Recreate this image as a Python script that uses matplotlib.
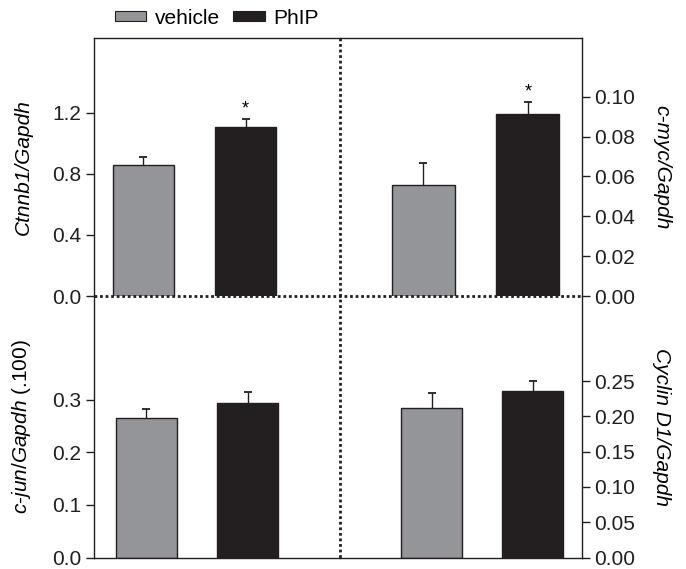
import matplotlib
matplotlib.use("Agg")
import matplotlib.pyplot as plt
from matplotlib.lines import Line2D
from matplotlib.patches import Patch

plt.rcParams['font.family'] = ['Liberation Sans', 'DejaVu Sans']
plt.rcParams['mathtext.fontset'] = 'custom'
plt.rcParams['mathtext.it'] = 'Liberation Sans:italic'
plt.rcParams['mathtext.rm'] = 'Liberation Sans'

# ---- data ----
groups = ['vehicle', 'PhIP']
ctnnb1 = [0.855, 1.105]
ctnnb1_err = [0.058, 0.053]
cmyc = [0.0558, 0.0915]
cmyc_err = [0.0112, 0.0060]
cjun = [0.266, 0.294]
cjun_err = [0.017, 0.021]
cycd1 = [0.2125, 0.236]
cycd1_err = [0.020, 0.014]
signif_top_left = [False, True]
signif_top_right = [False, True]

ticks_ctnnb1 = [0.0, 0.4, 0.8, 1.2]
ticks_cmyc = [0.00, 0.02, 0.04, 0.06, 0.08, 0.10]
ticks_cjun = [0.0, 0.1, 0.2, 0.3]
ticks_cycd1 = [0.00, 0.05, 0.10, 0.15, 0.20, 0.25]

colors = ['#939598', '#231f20']
edge = '#231f20'

W, H = 686, 569
fig = plt.figure(figsize=(W / 100, H / 100), dpi=100)

def fx(px):
    return px / W

def fy(py):
    return 1 - py / H

xl, xm, xr = 94, 340, 582
yt, ym, yb = 38, 296, 557.5

ax_tl = fig.add_axes([fx(xl), fy(ym), fx(xm) - fx(xl), fy(yt) - fy(ym)])
ax_tr = fig.add_axes([fx(xm), fy(ym), fx(xr) - fx(xm), fy(yt) - fy(ym)])
ax_bl = fig.add_axes([fx(xl), fy(yb), fx(xm) - fx(xl), fy(ym) - fy(yb)])
ax_br = fig.add_axes([fx(xm), fy(yb), fx(xr) - fx(xm), fy(ym) - fy(yb)])

FS = 15

def panel(ax, vals, errs, ticks, ylim, xlim, side, label, stars=None, fmt='%.1f', labelpad=8, rot=90):
    x = [0, 1]
    ax.bar(x, vals, width=0.6, color=colors, edgecolor=edge, linewidth=1.0, zorder=2)
    tops = [v + e for v, e in zip(vals, errs)]
    ax.vlines(x, vals, tops, colors=edge, linewidth=1.0, zorder=1)
    ax.plot(x, tops, linestyle='none', marker='_', markersize=5.5,
            markeredgewidth=1.3, color=edge, zorder=1)
    ax.set_xlim(*xlim)
    ax.set_ylim(0, ylim)
    ax.set_xticks([])
    ax.set_yticks(ticks)
    ax.set_yticklabels([fmt % t for t in ticks])
    for s in ax.spines.values():
        s.set_visible(False)
        s.set_linewidth(1.0)
        s.set_color('#231f20')
    ax.tick_params(axis='y', direction='out', length=6, width=1.0, labelsize=FS,
                   pad=3, colors='#231f20')
    if side == 'left':
        ax.spines['left'].set_visible(True)
    else:
        ax.spines['right'].set_visible(True)
        ax.yaxis.tick_right()
        ax.yaxis.set_label_position('right')
    ax.set_ylabel(label, fontsize=FS, labelpad=labelpad, rotation=rot, va='bottom')
    if stars is not None:
        for xi, t, s in zip(x, tops, stars):
            if s:
                ax.annotate('*', (xi, t), xytext=(0, 1), textcoords='offset points',
                            ha='center', va='bottom', fontsize=13)
    ax.patch.set_visible(False)

panel(ax_tl, ctnnb1, ctnnb1_err, ticks_ctnnb1, 1.69, (-0.485, 1.926), 'left',
      'Ctnnb1/Gapdh', stars=signif_top_left, fmt='%.1f', labelpad=14)
ax_tl.yaxis.label.set_fontstyle('italic')
ax_tl.spines['top'].set_visible(True)

panel(ax_tr, cmyc, cmyc_err, ticks_cmyc, 0.1295, (-0.80, 1.52), 'right',
      'c-myc/Gapdh', stars=signif_top_right, fmt='%.2f', rot=-90, labelpad=12)
ax_tr.yaxis.label.set_fontstyle('italic')
ax_tr.spines['top'].set_visible(True)

panel(ax_bl, cjun, cjun_err, ticks_cjun, 0.497, (-0.517, 1.914), 'left',
      r'$c$-$\mathit{jun/Gapdh}$ (.100)', fmt='%.1f', labelpad=14)
ax_bl.spines['bottom'].set_visible(True)

panel(ax_br, cycd1, cycd1_err, ticks_cycd1, 0.3705, (-0.906, 1.49), 'right',
      'Cyclin D1/Gapdh', fmt='%.2f', rot=-90, labelpad=12)
ax_br.yaxis.label.set_fontstyle('italic')
ax_br.spines['bottom'].set_visible(True)

# dotted dividers
dot = dict(color='#231f20', linewidth=2.0, linestyle=(0, (1, 1)))
fig.add_artist(Line2D([fx(xl), fx(xr)], [fy(ym), fy(ym)], **dot))
fig.add_artist(Line2D([fx(xm), fx(xm)], [fy(yt), fy(yb)], **dot))

# legend
handles = [Patch(facecolor=c, edgecolor=edge, linewidth=0.8, label=g) for c, g in zip(colors, groups)]
fig.legend(handles=handles, loc='center left', bbox_to_anchor=(fx(115), fy(18)),
           ncol=2, frameon=False, fontsize=FS, handlelength=1.5, handleheight=0.3,
           handletextpad=0.43, columnspacing=0.62, borderpad=0, borderaxespad=0)

fig.savefig('out.png', dpi=100)
